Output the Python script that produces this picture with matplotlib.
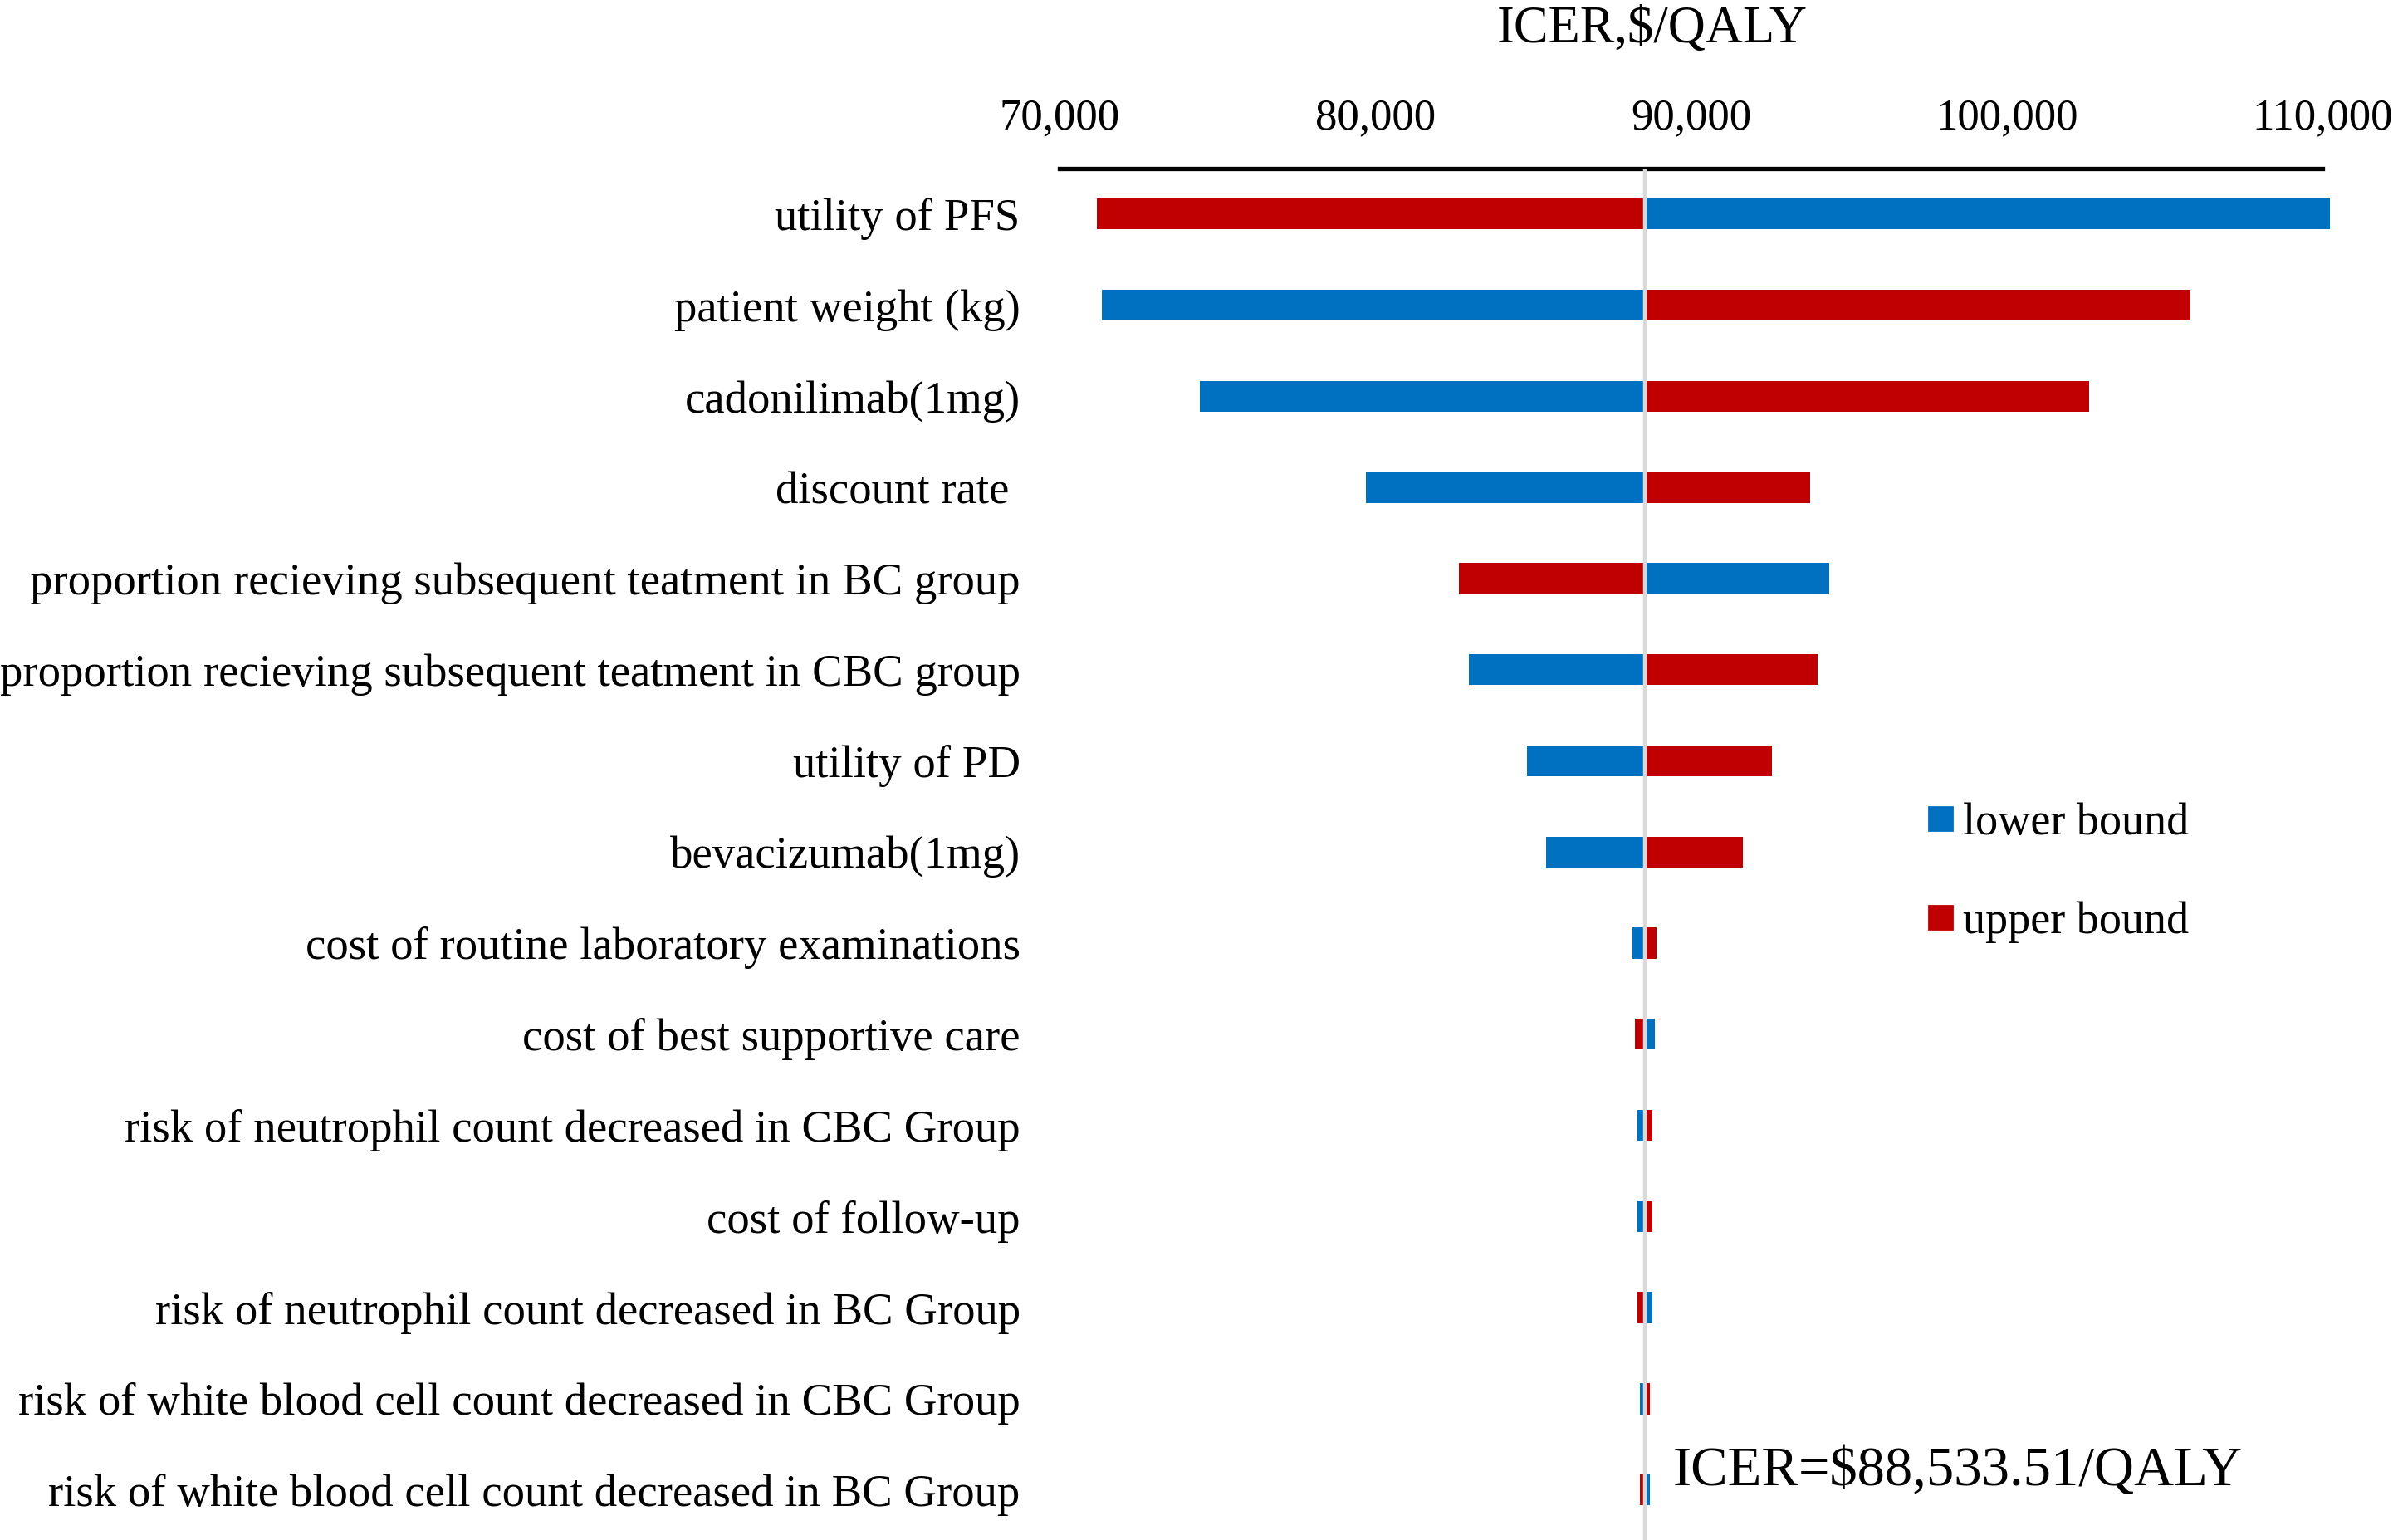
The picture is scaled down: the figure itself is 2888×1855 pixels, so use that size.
import matplotlib
matplotlib.use("Agg")
import matplotlib.pyplot as plt
from matplotlib.lines import Line2D

plt.rcParams['font.family'] = ['Liberation Serif', 'DejaVu Serif']

# base case ICER
base_icer = 88533.51

params = [
    'utility of PFS',
    'patient weight (kg)',
    'cadonilimab(1mg)',
    'discount rate ',
    'proportion recieving subsequent teatment in BC group',
    'proportion recieving subsequent teatment in CBC group',
    'utility of PD',
    'bevacizumab(1mg)',
    'cost of routine laboratory examinations',
    'cost of best supportive care',
    'risk of neutrophil count decreased in CBC Group',
    'cost of follow-up',
    'risk of neutrophil count decreased in BC Group',
    'risk of white blood cell count decreased in CBC Group',
    'risk of white blood cell count decreased in BC Group',
]

# ICER when the parameter is set to its lower / upper bound
icer_lower = [110227, 71349, 74447, 79698, 94377, 82974, 84801, 85404,
              88158, 88848, 88314, 88314, 88769, 88393, 88700]
icer_upper = [71174, 105807, 102600, 93773, 82659, 94001, 92565, 91645,
              88918, 88236, 88769, 88769, 88314, 88700, 88393]

xticks = [70000, 80000, 90000, 100000, 110000]

blue = '#0070C0'
red = '#C00000'

fig = plt.figure(figsize=(14.44, 9.275), dpi=200)
ax = fig.add_axes([0.4418, 0.0, 0.5267, 0.8906])

ys = list(range(len(params)))
lw = [v - base_icer for v in icer_lower]
uw = [v - base_icer for v in icer_upper]
ax.barh(ys, lw, left=base_icer, height=0.34, color=blue, clip_on=False, zorder=2)
ax.barh(ys, uw, left=base_icer, height=0.34, color=red, clip_on=False, zorder=2)
ax.axvline(base_icer, color='#D9D9D9', lw=1.6, zorder=3)

ax.set_xlim(70000, 110000)
ax.set_ylim(14.55, -0.5)
ax.set_yticks(ys)
ax.set_yticklabels(params, fontsize=19.7)
ax.set_xticks(xticks)
ax.set_xticklabels(['{:,}'.format(t) for t in xticks], fontsize=19)
ax.xaxis.tick_top()
ax.tick_params(axis='x', length=0, pad=13)
ax.tick_params(axis='y', length=0, pad=17)

for s in ['bottom', 'left', 'right']:
    ax.spines[s].set_visible(False)
ax.spines['top'].set_linewidth(1.9)

fig.text(1990 / 2888, 1 - 36 / 1855, 'ICER,$/QALY', ha='center', va='center',
         fontsize=22.5)

ax.text(base_icer + 900, 13.8, 'ICER=$88,533.51/QALY', ha='left', va='center',
        fontsize=24)

handles = [Line2D([], [], marker='s', ls='none', color=blue, markersize=10.4),
           Line2D([], [], marker='s', ls='none', color=red, markersize=10.4)]
ax.legend(handles, ['lower bound', 'upper bound'], loc='upper left',
          bbox_to_anchor=(2294 / 2888, 1 - 939 / 1855),
          bbox_transform=fig.transFigure, frameon=False, fontsize=19.5,
          handlelength=0.6, handletextpad=0.2, labelspacing=1.27, borderpad=0)

fig.savefig('out.png', dpi=200)
